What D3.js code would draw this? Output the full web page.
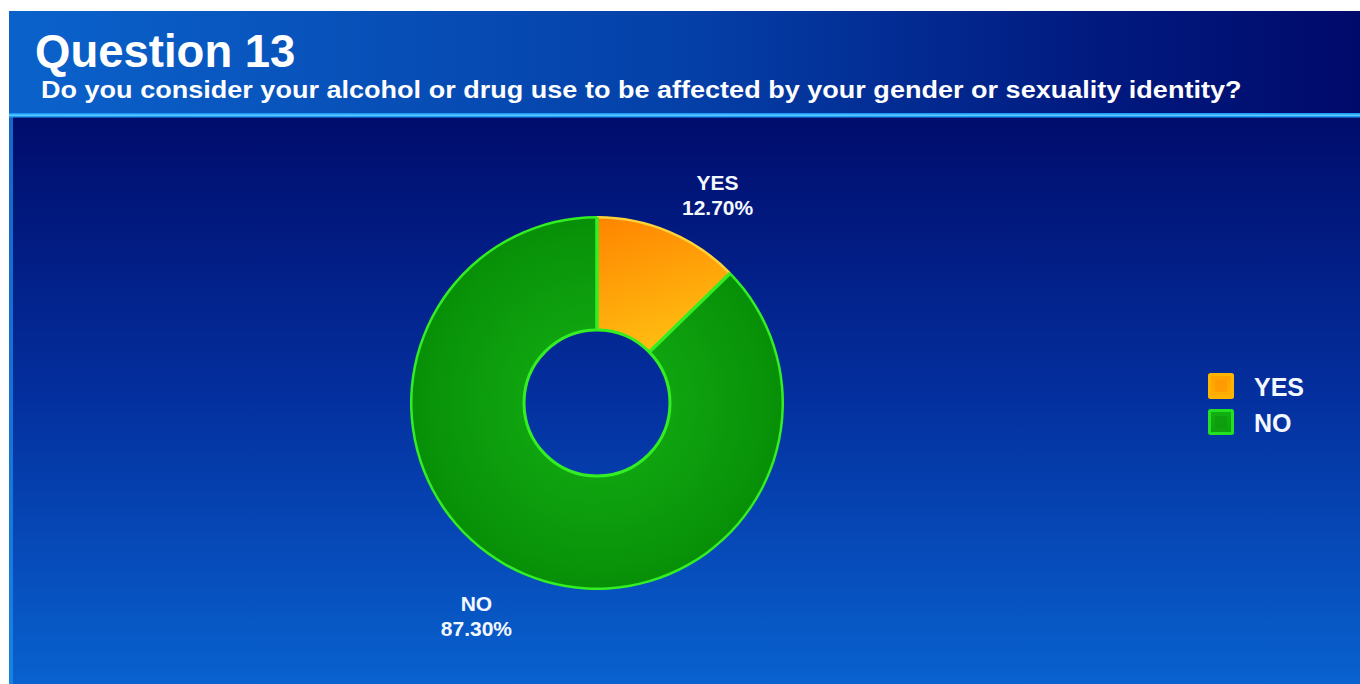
<!DOCTYPE html>
<html><head><meta charset="utf-8">
<script src="https://cdn.jsdelivr.net/npm/d3@7"></script>
<style>html,body{margin:0;padding:0;background:#fff;}svg{display:block;}</style>
</head><body>
<svg id="chart" width="1360" height="684"></svg>
<script>
const categories = ["YES", "NO"];
const values = [12.70, 87.30];
const valueLabels = ["12.70%", "87.30%"];
const titleText = "Question 13";
const subtitleText = "Do you consider your alcohol or drug use to be affected by your gender or sexuality identity?";

const W = 1360, H = 684;
const svg = d3.select("#chart");
const defs = svg.append("defs");
const FONT = "Liberation Sans, Arial, sans-serif";

// gradients
const hg = defs.append("linearGradient").attr("id","hdr").attr("x1","0").attr("x2","1").attr("y1","0").attr("y2","0");
hg.append("stop").attr("offset","0").attr("stop-color","#0b62cb");
hg.append("stop").attr("offset","0.5").attr("stop-color","#0440a8");
hg.append("stop").attr("offset","0.8").attr("stop-color","#011a80");
hg.append("stop").attr("offset","1").attr("stop-color","#000a6b");

const bg = defs.append("linearGradient").attr("id","body").attr("x1","0").attr("x2","0").attr("y1","0").attr("y2","1");
bg.append("stop").attr("offset","0").attr("stop-color","#000c6c");
bg.append("stop").attr("offset","0.5").attr("stop-color","#04309f");
bg.append("stop").attr("offset","1").attr("stop-color","#0862cf");

const gGreen = defs.append("radialGradient").attr("id","gGreen").attr("gradientUnits","userSpaceOnUse")
  .attr("cx",0).attr("cy",0).attr("r",190);
gGreen.append("stop").attr("offset","0.35").attr("stop-color","#10a510");
gGreen.append("stop").attr("offset","1").attr("stop-color","#078f07");

const gOrange = defs.append("linearGradient").attr("id","gOrange").attr("gradientUnits","userSpaceOnUse")
  .attr("x1",20).attr("y1",-190).attr("x2",60).attr("y2",-60);
gOrange.append("stop").attr("offset","0").attr("stop-color","#ff8500");
gOrange.append("stop").attr("offset","1").attr("stop-color","#ffbb10");

const lgO = defs.append("linearGradient").attr("id","lgO").attr("x1","0").attr("x2","0").attr("y1","0").attr("y2","1");
lgO.append("stop").attr("offset","0").attr("stop-color","#ffa000");
lgO.append("stop").attr("offset","1").attr("stop-color","#ffb000");
const lgG = defs.append("linearGradient").attr("id","lgG").attr("x1","0").attr("x2","0").attr("y1","0").attr("y2","1");
lgG.append("stop").attr("offset","0").attr("stop-color","#12b012");
lgG.append("stop").attr("offset","1").attr("stop-color","#0da00d");

// panel
const px = 9, py = 11;
svg.append("rect").attr("x",px).attr("y",py).attr("width",W-px).attr("height",104).attr("fill","url(#hdr)");
svg.append("rect").attr("x",px).attr("y",117).attr("width",W-px).attr("height",H-117).attr("fill","url(#body)");
svg.append("rect").attr("x",px).attr("y",113).attr("width",W-px).attr("height",4.5).attr("fill","#1e9cf5");
svg.append("rect").attr("x",px).attr("y",114.5).attr("width",W-px).attr("height",1.5).attr("fill","#5cc8ff");
svg.append("rect").attr("x",px).attr("y",117).attr("width",4).attr("height",H-117).attr("fill","#1f8fea").attr("opacity",0.7);

// titles
svg.append("text").attr("x",35).attr("y",67).text(titleText)
  .attr("font-family",FONT).attr("font-weight","bold")
  .attr("font-size",45.5).attr("fill","#ffffff");
const subG = svg.append("g");
const sub = subG.append("text").attr("x",0).attr("y",0).text(subtitleText)
  .attr("font-family",FONT).attr("font-weight","bold")
  .attr("font-size",23.5).attr("fill","#ffffff");
const subW = sub.node().getComputedTextLength();
const targetW = 1201;
subG.attr("transform",`translate(41,97.5) scale(${(targetW/subW).toFixed(4)},1)`);

// donut
const cx = 597, cy = 403, rOuter = 186, rInner = 72;
const colorFill = d3.scaleOrdinal().domain(categories).range(["url(#gOrange)","url(#gGreen)"]);
const colorStroke = d3.scaleOrdinal().domain(categories).range(["#ffd23a","#33ee22"]);
const pie = d3.pie().sort(null).value(d => d.v);
const data = categories.map((c,i)=>({c, v: values[i], label: valueLabels[i]}));
const arcs = pie(data);
const arc = d3.arc().innerRadius(rInner).outerRadius(rOuter);
const g = svg.append("g").attr("transform",`translate(${cx},${cy})`);

g.selectAll("path.slice").data(arcs).enter().append("path").attr("class","slice")
  .attr("d",arc).attr("fill",d=>colorFill(d.data.c)).attr("stroke","none");
g.selectAll("path.edge").data(arcs).enter().append("path").attr("class","edge")
  .attr("d",d=>d3.arc().innerRadius(rOuter-1.5).outerRadius(rOuter+1)(d))
  .attr("fill",d=>colorStroke(d.data.c));
g.append("circle").attr("r",rInner+1).attr("fill","none").attr("stroke","#33ee22").attr("stroke-width",3);
g.selectAll("line.div").data(arcs).enter().append("line").attr("class","div")
  .attr("x1",d=>rInner*Math.sin(d.startAngle)).attr("y1",d=>-rInner*Math.cos(d.startAngle))
  .attr("x2",d=>rOuter*Math.sin(d.startAngle)).attr("y2",d=>-rOuter*Math.cos(d.startAngle))
  .attr("stroke","#33ee22").attr("stroke-width",3.5);

// labels
const labelArc = d3.arc().innerRadius(210).outerRadius(210);
arcs.forEach(d=>{
  const [lx,ly] = labelArc.centroid(d);
  const sx = lx >= 0 ? 1 : -1, sy = ly >= 0 ? 1 : -1;
  const tx = lx + sx*39;
  const c = ly + sy*17;
  const t = g.append("text").attr("text-anchor","middle")
    .attr("font-family",FONT).attr("font-weight","bold")
    .attr("font-size",21).attr("fill","#f4f8ff");
  t.append("tspan").attr("x",tx).attr("y",c-2.5).text(d.data.c);
  t.append("tspan").attr("x",tx).attr("y",c+22.5).text(d.data.label);
});

// legend
const lg = svg.append("g").attr("transform","translate(1208,373)");
const legFill = d3.scaleOrdinal().domain(categories).range(["url(#lgO)","url(#lgG)"]);
const legBorder = d3.scaleOrdinal().domain(categories).range(["#ffb400","#22e022"]);
categories.forEach((c,i)=>{
  const y = i*36;
  lg.append("rect").attr("x",1.5).attr("y",y+1.5).attr("width",23).attr("height",23)
    .attr("fill",legFill(c)).attr("stroke",legBorder(c)).attr("stroke-width",3).attr("rx",1);
  lg.append("rect").attr("x",7).attr("y",y+7).attr("width",12).attr("height",12)
    .attr("fill",i===0?"#ff9800":"#0c9c0c").attr("opacity",0.8);
  lg.append("text").attr("x",46).attr("y",y+23).text(c)
    .attr("font-family",FONT).attr("font-weight","bold")
    .attr("font-size",25).attr("fill","#f4f8ff");
});
</script>
</body></html>
